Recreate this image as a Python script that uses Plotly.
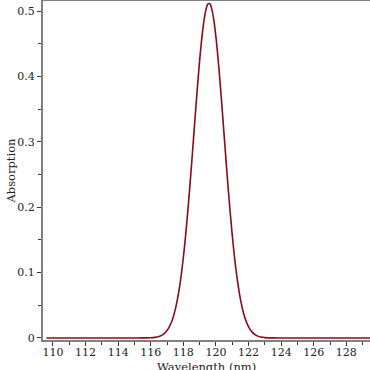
import plotly.graph_objects as go

# Wavelength (nm) and absorption values
wavelength = [109.6, 110, 111, 112, 113, 114, 115, 115.5, 116, 116.25, 116.5, 116.75,
              117, 117.25, 117.5, 117.75, 118, 118.25, 118.5, 118.75, 118.875, 119, 119.125,
              119.25, 119.375, 119.5, 119.625, 119.75, 119.875, 120, 120.125, 120.25, 120.375,
              120.5, 120.75, 121, 121.25, 121.5, 121.75,
              122, 122.25, 122.5, 122.75, 123, 123.5, 124, 125, 126, 127, 128, 129, 130]
absorption = [0, 0, 0, 0, 0, 0, 0, 0.0001, 0.0003, 0.0009, 0.0022, 0.0052,
              0.0113, 0.0228, 0.0430, 0.0754, 0.1231, 0.1870, 0.2641, 0.3471, 0.3873, 0.4244, 0.4566,
              0.4826, 0.5009, 0.5106, 0.5111, 0.5025, 0.4852, 0.4601, 0.4285, 0.3919, 0.3520,
              0.3105, 0.2289, 0.1570, 0.1002, 0.0594, 0.0328,
              0.0169, 0.0081, 0.0036, 0.0015, 0.0006, 0.0001, 0, 0, 0, 0, 0, 0, 0]

x_ticks = [110, 112, 114, 116, 118, 120, 122, 124, 126, 128]
y_ticks = [0, 0.1, 0.2, 0.3, 0.4, 0.5]
y_tick_text = ["0", "0.1", "0.2", "0.3", "0.4", "0.5"]
x_title = "Wavelength (nm)"
y_title = "Absorption"

font_family = "DejaVu Serif"

fig = go.Figure()
fig.add_trace(go.Scatter(
    x=wavelength, y=absorption, mode="lines",
    line=dict(color="#8b0a1a", width=1.6, shape="spline", smoothing=0.8),
    showlegend=False, hoverinfo="x+y",
))

fig.update_layout(
    width=370, height=370,
    margin=dict(l=43, r=0, t=1, b=30, autoexpand=False),
    paper_bgcolor="white", plot_bgcolor="white",
    font=dict(family=font_family, size=11, color="#222"),
    annotations=[
        dict(text=x_title, xref="paper", yref="paper", x=0.5, y=0,
             xanchor="center", yanchor="middle", yshift=-27, showarrow=False,
             font=dict(family=font_family, size=11.5, color="#222")),
        dict(text=y_title, xref="paper", yref="paper", x=0, y=0.5, textangle=-90,
             xanchor="center", yanchor="middle", xshift=-33, showarrow=False,
             font=dict(family=font_family, size=11.5, color="#222")),
    ],
)

fig.update_xaxes(
    range=[109.39, 129.45],
    tickvals=x_ticks,
    ticks="outside", ticklen=4, tickwidth=1, tickcolor="#333",
    minor=dict(dtick=1, ticks="outside", ticklen=3, tickcolor="#333", tick0=110),
    showgrid=False, zeroline=False, automargin=False,
    showline=True, linecolor="#808080", linewidth=2, mirror=True,
    ticklabelstandoff=-3,
    tickfont=dict(family=font_family, size=11, color="#222"),
)
fig.update_yaxes(
    range=[-0.0031, 0.5153],
    tickvals=y_ticks, ticktext=y_tick_text,
    ticks="outside", ticklen=4, tickwidth=1, tickcolor="#333",
    minor=dict(dtick=0.05, tick0=0, ticks="outside", ticklen=3, tickcolor="#333"),
    showgrid=False, zeroline=False, automargin=False,
    showline=True, linecolor="#808080", linewidth=2, mirror=False,
    tickfont=dict(family=font_family, size=11, color="#222"),
)

fig.write_html(
    "out.html",
    config={"displayModeBar": False},
    post_script="document.body.style.margin='0';document.body.style.overflow='hidden';",
)
